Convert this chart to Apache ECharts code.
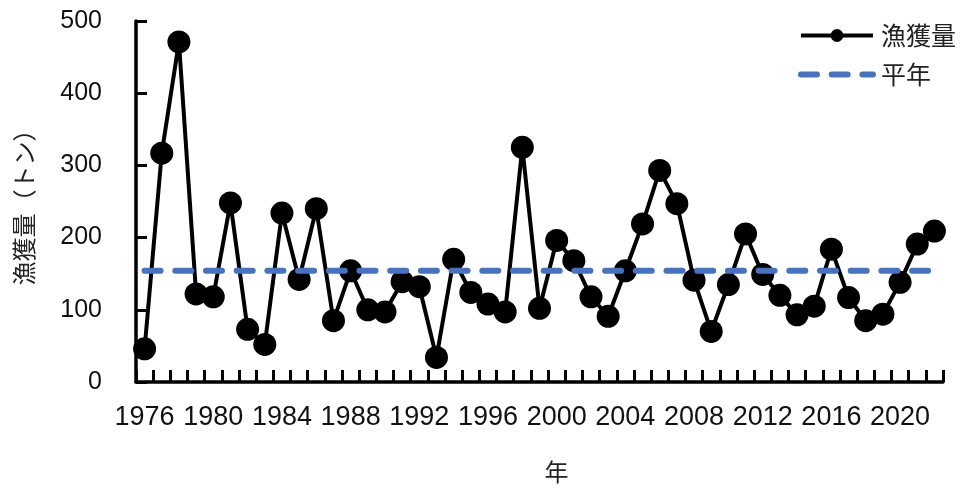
<!DOCTYPE html>
<html>
<head>
<meta charset="utf-8">
<script src="https://cdn.jsdelivr.net/npm/echarts@6/dist/echarts.min.js"></script>
<style>
  html, body { margin: 0; padding: 0; background: #fff; }
  #chart { width: 965px; height: 489px; }
</style>
</head>
<body>
<div id="chart"></div>
<script>
// Annual catch (tonnes), 1976-2022
const years = [];
for (let y = 1976; y <= 2022; y++) years.push(String(y));

const catchTons = [
  46, 317, 471, 122, 118, 248, 73, 52, 234, 142,
  240, 85, 154, 100, 97, 139, 132, 34, 170, 124,
  108, 97, 325, 102, 196, 168, 118, 91, 154, 219,
  293, 247, 141, 70, 135, 205, 149, 120, 93, 105,
  184, 117, 85, 94, 138, 191, 209
];

// Normal-year level drawn as a flat reference line
const normalLevel = 154;
const normalLine = years.map(() => normalLevel);

const yTicks = [0, 100, 200, 300, 400, 500];

const FONT = '"Liberation Sans", "Noto Sans CJK JP", sans-serif';
const CJK = '"Noto Sans CJK JP", "Liberation Sans", sans-serif';

const chart = echarts.init(document.getElementById('chart'), null, { renderer: 'canvas' });

chart.setOption({
  animation: false,
  backgroundColor: '#ffffff',
  grid: { left: 136, right: 22, top: 21, bottom: 105, containLabel: false },
  legend: {
    orient: 'vertical',
    right: 4,
    top: 18,
    itemWidth: 72,
    itemHeight: 16,
    itemGap: 14,
    textStyle: { fontFamily: CJK, fontSize: 25, color: '#222', padding: [0, 0, 0, 3] },
    data: [
      { name: '漁獲量', lineStyle: { width: 4 } },
      { name: '平年', lineStyle: { width: 6 }, itemStyle: { opacity: 0 } }
    ]
  },
  xAxis: {
    type: 'category',
    data: years,
    name: '年',
    nameLocation: 'middle',
    nameGap: 78,
    nameTextStyle: { fontFamily: CJK, fontSize: 24, color: '#222', padding: [0, 0, 0, 34] },
    axisLine: { lineStyle: { color: '#000', width: 3.5 } },
    axisTick: {
      show: true,
      inside: true,
      length: 12,
      interval: 0,
      lineStyle: { color: '#000', width: 3 }
    },
    axisLabel: {
      interval: 3,
      margin: 22,
      fontFamily: FONT,
      fontSize: 27,
      color: '#111'
    },
    splitLine: { show: false }
  },
  yAxis: {
    type: 'value',
    min: yTicks[0],
    max: yTicks[yTicks.length - 1],
    interval: 100,
    name: '漁獲量（トン）',
    nameLocation: 'middle',
    nameRotate: 90,
    nameGap: 100,
    nameTextStyle: { fontFamily: CJK, fontSize: 24, color: '#222' },
    axisLine: { show: true, lineStyle: { color: '#000', width: 3.5 } },
    axisTick: { show: true, inside: true, length: 11, lineStyle: { color: '#000', width: 3 } },
    axisLabel: { margin: 34, fontFamily: FONT, fontSize: 25, color: '#111' },
    splitLine: { show: false }
  },
  series: [
    {
      name: '平年',
      type: 'line',
      data: normalLine,
      symbol: 'none',
      showSymbol: false,
      z: 3,
      lineStyle: { color: '#4472C4', width: 6, type: [16, 14.7], cap: 'round' },
      itemStyle: { color: '#4472C4' }
    },
    {
      name: '漁獲量',
      type: 'line',
      data: catchTons,
      symbol: 'circle',
      symbolSize: 23,
      showSymbol: true,
      showAllSymbol: true,
      z: 2,
      lineStyle: { color: '#000', width: 4 },
      itemStyle: { color: '#000' }
    }
  ]
});
</script>
</body>
</html>
